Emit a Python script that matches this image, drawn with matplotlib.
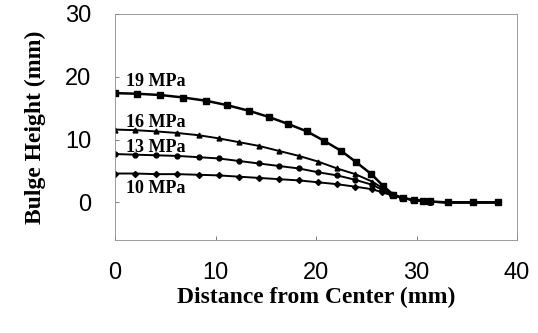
import matplotlib
matplotlib.use("Agg")
import matplotlib.pyplot as plt

x_19 = [0, 2.2, 4.5, 6.8, 9.0, 11.1, 13.3, 15.3, 17.2, 19.1, 20.8, 22.5, 24.0, 25.5,
        26.7, 27.7, 28.7, 29.7, 30.6, 31.3, 33.1, 35.6, 38.1]
y_19 = [17.4, 17.3, 17.1, 16.7, 16.2, 15.5, 14.6, 13.6, 12.5, 11.3, 9.8, 8.2, 6.4, 4.5,
        2.6, 1.2, 0.7, 0.4, 0.3, 0.15, 0, 0, 0]

x_low = [0, 2.0, 4.1, 6.2, 8.3, 10.3, 12.3, 14.3, 16.3, 18.3, 20.2, 22.1, 23.9, 25.6,
         26.6, 27.6, 28.6, 29.6, 30.6, 31.3, 33.1, 35.6, 38.1]
y_16 = [11.6, 11.5, 11.3, 11.05, 10.7, 10.2, 9.6, 9.0, 8.2, 7.4, 6.5, 5.4, 4.5, 3.3,
        2.3, 1.3, 0.7, 0.4, 0.2, 0.1, 0, 0, 0]
y_13 = [7.7, 7.6, 7.5, 7.4, 7.2, 7.0, 6.6, 6.2, 5.8, 5.4, 4.8, 4.3, 3.6, 2.8,
        2.0, 1.2, 0.7, 0.4, 0.2, 0.1, 0, 0, 0]
y_10 = [4.6, 4.6, 4.5, 4.5, 4.4, 4.3, 4.1, 3.9, 3.7, 3.5, 3.2, 2.9, 2.5, 2.1,
        1.6, 1.1, 0.7, 0.4, 0.2, 0.1, 0, 0, 0]

labels = ["19 MPa", "16 MPa", "13 MPa", "10 MPa"]
label_y = [19.2, 12.8, 8.8, 2.2]

x_ticks = [0, 10, 20, 30, 40]
y_ticks = [0, 10, 20, 30]

fig = plt.figure(figsize=(5.38, 3.33), dpi=100)
ax = fig.add_axes([0.214, 0.279, 0.747, 0.679])

ax.plot(x_19, y_19, color="black", lw=1.8, marker="s", ms=4.5)
ax.plot(x_low, y_16, color="black", lw=1.4, marker="^", ms=3.5)
ax.plot(x_low, y_13, color="black", lw=1.4, marker="o", ms=3.5)
ax.plot(x_low, y_10, color="black", lw=1.4, marker="D", ms=3)

for lab, ly in zip(labels, label_y):
    ax.text(1.1, ly, lab, fontsize=13, fontweight="bold",
            family="Liberation Serif", va="center", ha="left")

ax.set_xlim(0, 40)
ax.set_ylim(-6, 30)
ax.set_xticks(x_ticks)
ax.set_yticks(y_ticks)
ax.tick_params(direction="in", length=3, width=0.6, color="0.4", labelsize=17)
for lbl in ax.get_xticklabels() + ax.get_yticklabels():
    lbl.set_family("Liberation Sans")
ax.tick_params(axis="x", pad=16)
ax.tick_params(axis="y", pad=17)

for sp in ax.spines.values():
    sp.set_color("0.55")
    sp.set_linewidth(0.6)

ax.set_xlabel("Distance from Center (mm)", fontsize=17, fontweight="bold",
              family="Liberation Serif", labelpad=2)
ax.set_ylabel("Bulge Height (mm)", fontsize=17, fontweight="bold",
              family="Liberation Serif", labelpad=14)

fig.savefig("out.png", dpi=100)
